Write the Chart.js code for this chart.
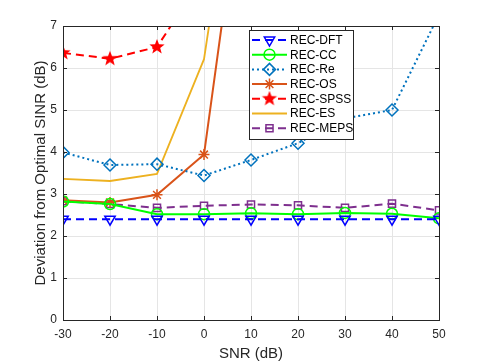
<!DOCTYPE html>
<html>
<head>
<meta charset="utf-8">
<script src="https://cdn.jsdelivr.net/npm/chart.js@4/dist/chart.umd.min.js"></script>
<style>
  html, body { margin: 0; padding: 0; background: #fff; }
  #wrap { width: 485px; height: 363px; position: relative; }
</style>
</head>
<body>
<div id="wrap"><canvas id="chartDev"></canvas></div>
<script>
'use strict'

// x axis: SNR (dB)
var snr = [-30, -20, -10, 0, 10, 20, 30, 40, 50];
var yTicks = [0, 1, 2, 3, 4, 5, 6, 7];

// series values (dB deviation)
var recDFT  = [2.40, 2.40, 2.40, 2.40, 2.40, 2.40, 2.40, 2.40, 2.40];
var recCC   = [2.82, 2.76, 2.52, 2.52, 2.54, 2.52, 2.55, 2.53, 2.42];
var recRe   = [3.99, 3.69, 3.71, 3.44, 3.81, 4.21, 4.80, 5.00, 7.27];
var recOS   = [2.85, 2.80, 2.98, 3.94, 12.1, null, null, null, null];
var recSPSS = [6.36, 6.22, 6.50, 8.20, null, null, null, null, null];
var recES   = [3.36, 3.31, 3.48, 6.21, 13.6, null, null, null, null];
var recMEPS = [2.83, 2.76, 2.67, 2.72, 2.75, 2.73, 2.67, 2.77, 2.61];

function pts(arr) {
    return snr.map(function (x, i) { return { x: x, y: arr[i] }; });
}

// filled pentagram marker (no built-in pointStyle for it)
function makeStar(color, r) {
    var c = document.createElement('canvas');
    var s = Math.ceil(r * 2 + 2);
    c.width = s; c.height = s;
    var g = c.getContext('2d');
    g.translate(s / 2, s / 2);
    g.beginPath();
    for (var i = 0; i < 10; i++) {
        var rad = (i % 2 === 0) ? r : r * 0.42;
        var a = -Math.PI / 2 + i * Math.PI / 5;
        g.lineTo(rad * Math.cos(a), rad * Math.sin(a));
    }
    g.closePath();
    g.fillStyle = color;
    g.fill();
    return c;
}
var starImg = makeStar('#ff0000', 8);

var font = 'Liberation Sans, Arial, Helvetica, sans-serif';
var txt = '#262626';

// MATLAB-like box with inward ticks
var boxPlugin = {
    id: 'box',
    afterDatasetsDraw: function (chart) {
        var a = chart.chartArea, ctx = chart.ctx;
        var xs = chart.scales.x, ys = chart.scales.y;
        ctx.save();
        ctx.strokeStyle = txt;
        ctx.lineWidth = 1;
        ctx.beginPath();
        snr.forEach(function (v) {
            var px = Math.round(xs.getPixelForValue(v)) + 0.5;
            ctx.moveTo(px, a.bottom); ctx.lineTo(px, a.bottom - 4);
            ctx.moveTo(px, a.top); ctx.lineTo(px, a.top + 4);
        });
        yTicks.forEach(function (v) {
            var py = Math.round(ys.getPixelForValue(v)) + 0.5;
            ctx.moveTo(a.left, py); ctx.lineTo(a.left + 4, py);
            ctx.moveTo(a.right, py); ctx.lineTo(a.right - 4, py);
        });
        ctx.stroke();
        ctx.strokeRect(Math.round(a.left) + 0.5, Math.round(a.top) + 0.5,
            Math.round(a.right - a.left), Math.round(a.bottom - a.top));
        ctx.restore();
    }
};

// legend box inside the axes, top right
var legendPlugin = {
    id: 'boxLegend',
    afterDraw: function (chart) {
        var ctx = chart.ctx;
        var bx = 249.5, by = 30.5, bw = 104, bh = 109;
        ctx.save();
        ctx.fillStyle = '#fff';
        ctx.fillRect(bx, by, bw, bh);
        ctx.strokeStyle = '#262626';
        ctx.lineWidth = 1;
        ctx.strokeRect(bx, by, bw, bh);
        ctx.font = '12px ' + font;
        ctx.textBaseline = 'middle';
        chart.data.datasets.forEach(function (ds, i) {
            var y = 40 + i * 14.7;
            ctx.save();
            ctx.strokeStyle = ds.borderColor;
            ctx.lineWidth = ds.borderWidth;
            ctx.setLineDash(ds.borderDash || []);
            ctx.beginPath();
            ctx.moveTo(252, y); ctx.lineTo(287, y);
            ctx.stroke();
            ctx.setLineDash([]);
            if (ds.pointStyle !== false) {
                ctx.strokeStyle = ds.borderColor;
                ctx.fillStyle = ds.pointBackgroundColor;
                ctx.lineWidth = ds.pointBorderWidth;
                Chart.helpers.drawPoint(ctx, {
                    pointStyle: ds.pointStyle,
                    rotation: ds.pointRotation || 0,
                    radius: ds.pointRadius,
                    borderWidth: ds.pointBorderWidth
                }, 269.5, y);
            }
            ctx.restore();
            ctx.fillStyle = '#000';
            ctx.fillText(ds.label, 290, y + 0.5);
        });
        ctx.restore();
    }
};

function series(label, data, color, opts) {
    var d = {
        label: label,
        data: pts(data),
        borderColor: color,
        backgroundColor: color,
        borderWidth: 2,
        borderDash: [],
        pointStyle: 'circle',
        pointRadius: 5,
        pointBorderWidth: 1.5,
        pointBorderColor: color,
        pointBackgroundColor: 'rgba(255,255,255,0)',
        pointHoverRadius: 5,
        tension: 0,
        spanGaps: false
    };
    for (var k in opts) d[k] = opts[k];
    return d;
}

var ctx = document.getElementById('chartDev');
var devChart = new Chart(ctx, {
    type: 'line',
    data: {
        datasets: [
            series('REC-DFT', recDFT, '#0000ff', { borderDash: [8, 5], pointStyle: 'triangle', pointRotation: 180, pointRadius: 6 }),
            series('REC-CC', recCC, '#00ff00', { pointStyle: 'circle', pointRadius: 5.5 }),
            series('REC-Re', recRe, '#0072bd', { borderDash: [2, 3], pointStyle: 'rectRot', pointRadius: 6 }),
            series('REC-OS', recOS, '#d95319', { pointStyle: 'star', pointRadius: 5.5 }),
            series('REC-SPSS', recSPSS, '#ff0000', { borderDash: [8, 5], pointStyle: starImg }),
            series('REC-ES', recES, '#edb120', { borderWidth: 1.8, pointStyle: false, pointRadius: 0 }),
            series('REC-MEPS', recMEPS, '#7e2f8e', { borderDash: [8, 5], pointStyle: 'rect', pointRadius: 5 })
        ]
    },
    options: {
        responsive: true,
        maintainAspectRatio: false,
        animation: false,
        events: [],
        layout: { padding: { left: 28, top: 26, right: 46, bottom: 0 } },
        plugins: {
            legend: { display: false },
            tooltip: { enabled: false }
        },
        scales: {
            x: {
                type: 'linear',
                min: -30, max: 50,
                afterBuildTicks: function (s) { s.ticks = snr.map(function (v) { return { value: v }; }); },
                afterFit: function (s) { s.height = 43; },
                grid: { color: '#e5e5e5', drawTicks: false },
                border: { display: false },
                ticks: { padding: 7, color: txt, font: { family: font, size: 12 }, maxRotation: 0 },
                title: { display: true, text: 'SNR (dB)', color: txt, font: { family: font, size: 15 }, padding: { top: 1, bottom: 0 } }
            },
            y: {
                min: 0, max: 7,
                afterBuildTicks: function (s) { s.ticks = yTicks.map(function (v) { return { value: v }; }); },
                afterFit: function (s) { s.width = 35; },
                grid: { color: '#e5e5e5', drawTicks: false },
                border: { display: false },
                ticks: { padding: 6, color: txt, font: { family: font, size: 12 } },
                title: { display: true, text: 'Deviation from Optimal SINR (dB)', color: txt, font: { family: font, size: 15 }, padding: { top: 4, bottom: 0 } }
            }
        }
    },
    plugins: [boxPlugin, legendPlugin]
});
</script>
</body>
</html>
